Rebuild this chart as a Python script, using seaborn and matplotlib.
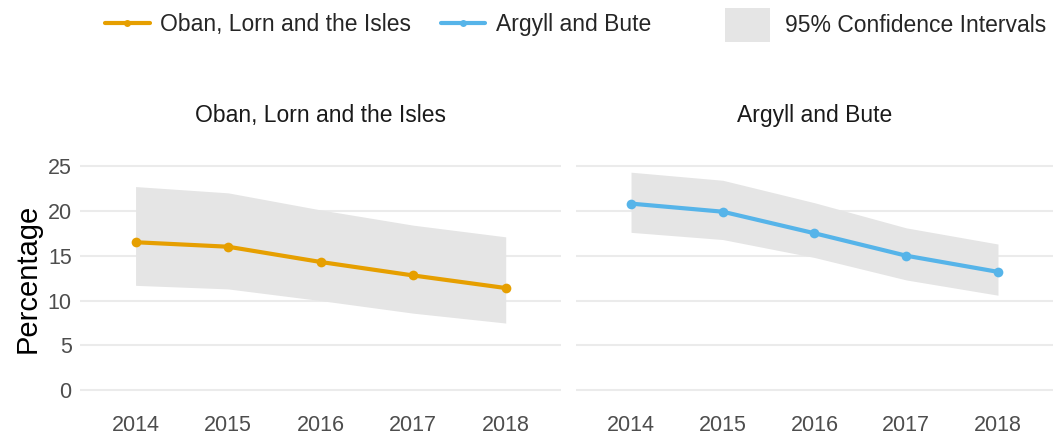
import seaborn as sns
import matplotlib.pyplot as plt
from matplotlib.patches import Patch
from matplotlib.lines import Line2D

years = [2014, 2015, 2016, 2017, 2018]

oban = [16.5, 16.0, 14.3, 12.8, 11.4]
oban_low = [11.7, 11.3, 10.0, 8.6, 7.5]
oban_high = [22.7, 22.0, 20.1, 18.4, 17.1]

argyll = [20.8, 19.9, 17.5, 15.0, 13.2]
argyll_low = [17.6, 16.8, 14.8, 12.3, 10.6]
argyll_high = [24.3, 23.4, 20.9, 18.1, 16.3]

panels = [
    ("Oban, Lorn and the Isles", oban, oban_low, oban_high, "#E69F00"),
    ("Argyll and Bute", argyll, argyll_low, argyll_high, "#56B4E9"),
]

sns.set_theme(style="whitegrid")
plt.rcParams['font.family'] = ['Liberation Sans', 'DejaVu Sans']

fig = plt.figure(figsize=(10.53, 4.37), dpi=100)
positions = [[0.076, 0.082, 0.457, 0.563], [0.547, 0.082, 0.453, 0.563]]

for i, (name, vals, low, high, col) in enumerate(panels):
    ax = fig.add_axes(positions[i])
    ax.fill_between(years, low, high, color="#E5E5E5", linewidth=0, zorder=1)
    sns.lineplot(x=years, y=vals, ax=ax, color=col, marker="o", linewidth=3,
                 markersize=7, markeredgewidth=0, zorder=3)
    ax.set_xlim(2013.4, 2018.6)
    ax.set_ylim(-1.2, 26.2)
    ax.set_yticks([0, 5, 10, 15, 20, 25])
    ax.set_xticks(years)
    ax.grid(axis="x", visible=False)
    ax.grid(axis="y", color="#EBEBEB", linewidth=1.5)
    for s in ax.spines.values():
        s.set_visible(False)
    ax.tick_params(axis="both", labelsize=15.5, labelcolor="#4D4D4D", length=0)
    ax.tick_params(axis="x", pad=10)
    ax.tick_params(axis="y", pad=6)
    ax.set_title(name, fontsize=16.5, color="#1A1A1A", pad=24)
    ax.set_xlabel("")
    if i == 0:
        ax.set_ylabel("Percentage", fontsize=21, color="black", labelpad=4)
    else:
        ax.set_yticklabels([])
        ax.set_ylabel("")

line_handles = [
    Line2D([], [], color="#E69F00", linewidth=3, marker="o", markersize=5, markeredgewidth=0),
    Line2D([], [], color="#56B4E9", linewidth=3, marker="o", markersize=5, markeredgewidth=0),
]
fig.legend(line_handles, ["Oban, Lorn and the Isles", "Argyll and Bute"],
           loc="center left", bbox_to_anchor=(105 / 1053, 1 - 25 / 437), ncol=2,
           frameon=False, fontsize=16.5, handlelength=1.95, handletextpad=0.45,
           columnspacing=1.3, borderpad=0, borderaxespad=0)
fig.legend([Patch(facecolor="#E5E5E5", edgecolor="none")], ["95% Confidence Intervals"],
           loc="center left", bbox_to_anchor=(725 / 1053, 1 - 25 / 437),
           frameon=False, fontsize=16.5, handlelength=1.95, handleheight=1.9,
           handletextpad=0.65, borderpad=0, borderaxespad=0)

fig.savefig("out.png", dpi=100)
